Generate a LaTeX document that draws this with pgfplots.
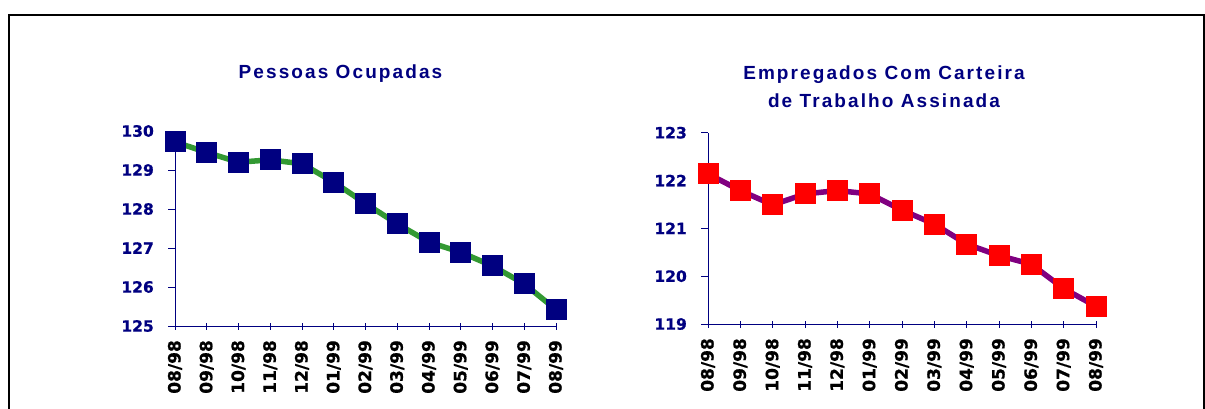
\documentclass[border=0pt]{standalone}
\usepackage{fontspec}
\setmainfont{Liberation Sans}
\newfontfamily\titlefont[LetterSpace=11]{Liberation Sans}
\newfontfamily\tickfont[BoldFeatures={FakeBold=0.8}]{DejaVu Sans}
\usepackage{pgfplots}
\pgfplotsset{compat=1.18}
\definecolor{navy}{RGB}{0,0,128}
\definecolor{lgreen}{RGB}{51,153,51}
\definecolor{purp}{RGB}{128,0,128}
\begin{document}
\begin{tikzpicture}
\path[use as bounding box] (0pt,0pt) rectangle (1205pt,408pt);
\draw[line width=2pt,black] (9pt,-5pt) -- (9pt,393pt) -- (1204pt,393pt) -- (1204pt,-5pt);
\pgfplotsset{
  common/.style={
    scale only axis,
    anchor=south west,
    axis lines*=left,
    axis line style={navy, line width=0.8pt},
    xmin=0, xmax=12,
    xtick={0,...,12},
    xticklabels={08/98,09/98,10/98,11/98,12/98,01/99,02/99,03/99,04/99,05/99,06/99,07/99,08/99},
    xticklabel style={rotate=90, anchor=east, font=\tickfont\bfseries\fontsize{17}{17}\selectfont, text=black, inner sep=0pt, xshift=-7pt},
    yticklabel style={font=\tickfont\bfseries\fontsize{15.5}{15.5}\selectfont, text=navy, inner sep=0pt, xshift=-14pt},
    ytick style={navy, line width=0.8pt},
    xtick style={navy, line width=0.8pt, yshift=3.5pt},
    tick align=outside,
    major tick length=7pt,
    clip=false,
    /pgf/number format/assume math mode=true,
  }
}
\begin{axis}[common,
  at={(175pt,82pt)}, width=381pt, height=195pt,
  ymin=125, ymax=130, ytick={125,126,127,128,129,130},
]
\addplot[lgreen, line width=5.5pt, mark=square*, mark size=10pt, mark options={navy, draw=navy, line width=0pt}] coordinates {
(0,129.72) (1,129.45) (2,129.20) (3,129.26) (4,129.16) (5,128.69) (6,128.14) (7,127.62) (8,127.15) (9,126.89) (10,126.54) (11,126.08) (12,125.42)
};
\end{axis}
\begin{axis}[common,
  at={(708pt,84pt)}, width=388pt, height=191.3pt,
  ymin=119, ymax=123, ytick={119,120,121,122,123},
]
\addplot[purp, line width=5.5pt, mark=square*, mark size=10pt, mark options={red, draw=red, line width=0pt}] coordinates {
(0,122.14) (1,121.79) (2,121.49) (3,121.72) (4,121.79) (5,121.72) (6,121.38) (7,121.09) (8,120.67) (9,120.43) (10,120.25) (11,119.74) (12,119.37)
};
\end{axis}
\node[font=\titlefont\bfseries\fontsize{19}{19}\selectfont, text=navy] at (340.5pt,334.5pt) {Pessoas Ocupadas};
\node[font=\titlefont\bfseries\fontsize{19}{19}\selectfont, text=navy, align=center] at (884pt,321pt) {Empregados Com Carteira\\[9pt]de Trabalho Assinada};
\end{tikzpicture}
\end{document}
